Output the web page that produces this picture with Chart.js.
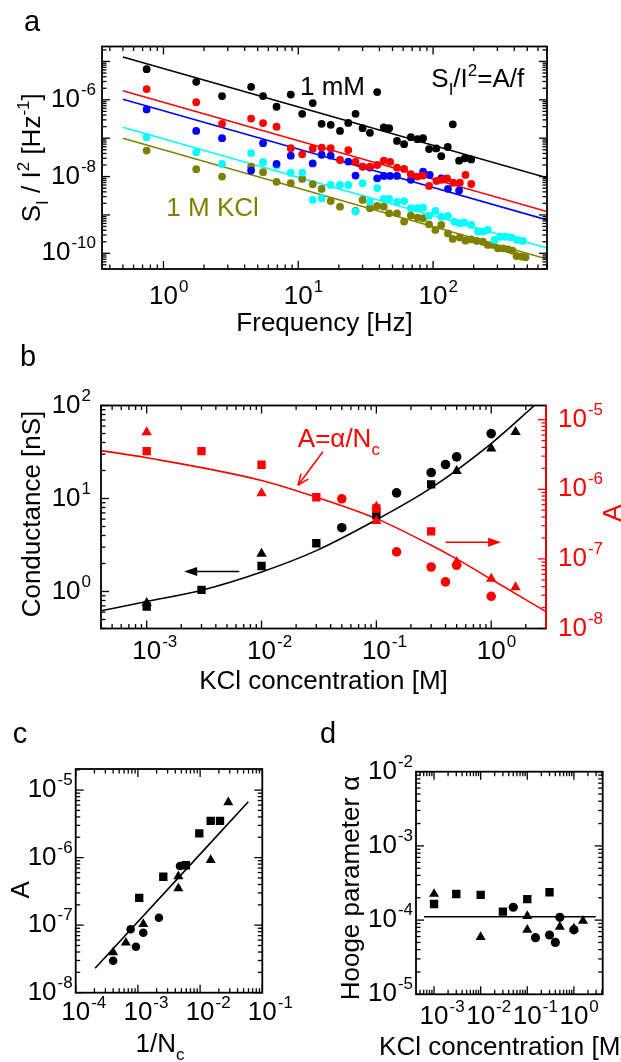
<!DOCTYPE html>
<html>
<head>
<meta charset="utf-8">
<title>1/f noise vs KCl concentration</title>
<script src="https://cdn.jsdelivr.net/npm/chart.js@4.4.1/dist/chart.umd.min.js"></script>
<style>
  html, body { margin: 0; padding: 0; background: #fff; }
  body { position: relative; width: 621px; height: 1062px; overflow: hidden; }
  canvas { position: absolute; display: block; }
</style>
</head>
<body>
<canvas id="panelA" width="621" height="340" style="left:0;top:0"></canvas>
<canvas id="panelB" width="621" height="360" style="left:0;top:340px"></canvas>
<canvas id="panelC" width="320" height="362" style="left:0;top:700px"></canvas>
<canvas id="panelD" width="301" height="362" style="left:320px;top:700px"></canvas>
<script>
// ---------- panel a : S_I/I^2 spectra ----------
const freqBlack = [0.75, 1.75, 2.72, 4.47, 5.48, 6.9, 8.8, 10.7, 12.8, 14.9, 17.4, 20.4, 23.5, 26.6, 30, 34, 38.5, 43.1, 47.2, 54, 61, 68.4, 76.6, 84.3, 93.4, 105.6, 115, 128.5, 140, 156, 172, 192];
const valBlack = [6.3e-6, 2.95e-6, 1.25e-6, 2.18e-6, 1.25e-6, 6.6e-7, 1.37e-6, 4.3e-7, 8.2e-7, 2.37e-7, 2.23e-7, 1.55e-7, 2.5e-7, 4.3e-7, 1.82e-7, 1.38e-7, 1.59e-6, 1.9e-7, 1.82e-7, 8.5e-8, 7e-8, 1.06e-7, 9.4e-8, 1e-7, 5.2e-8, 5.4e-8, 3.4e-8, 5.9e-8, 2.3e-7, 2.6e-8, 3e-8, 2.8e-8];
const freqRed = [0.75, 1.75, 2.72, 4.47, 5.48, 6.9, 8.8, 10.7, 12.8, 14.9, 17.4, 20.4, 23.5, 26.6, 30, 34, 38.5, 43.1, 48, 54, 61, 68.4, 76.6, 84.3, 93.4, 106, 116, 127, 141, 158, 174, 192];
const valRed = [1.9e-6, 8.7e-7, 2.37e-7, 3.25e-7, 2.47e-7, 2e-7, 5.5e-8, 3.8e-8, 5.3e-8, 5.7e-8, 5.5e-8, 2.7e-8, 4.9e-8, 2.4e-8, 1.82e-8, 1.82e-8, 2e-8, 2.6e-8, 2.4e-8, 1.7e-8, 1.58e-8, 1.15e-8, 1e-8, 1.06e-8, 5.7e-9, 7.7e-9, 8.2e-9, 9e-9, 6.9e-9, 6.9e-9, 1.1e-8, 6.4e-9];
const freqBlue = [0.75, 1.75, 2.72, 4.47, 5.48, 6.9, 8.8, 12.8, 14.9, 17.4, 23.5, 26.6, 30, 34, 38.5, 43.1, 48, 54, 68.4, 84.3, 94.4, 115, 129, 156];
const valBlue = [5.6e-7, 1.55e-7, 1e-7, 1.43e-8, 7.4e-8, 2.14e-8, 3.5e-8, 2.2e-8, 3.7e-8, 3.5e-8, 2.45e-8, 1.06e-8, 1.82e-8, 1.71e-8, 9e-9, 1.04e-8, 1.04e-8, 1.04e-8, 8.2e-9, 1.35e-8, 1.1e-8, 9e-9, 4.8e-9, 4.3e-9];
const freqCyan = [0.75, 1.75, 2.72, 4.47, 5.48, 6.9, 8.8, 10.7, 12.8, 14.9, 17.4, 20.4, 23.5, 26.6, 30, 34, 38.5, 43.1, 47.2, 54, 61, 68.4, 76.6, 84.3, 93.4, 104, 115, 129, 144, 158, 171, 192, 215, 235, 255, 286, 316, 346, 381, 419, 464];
const valCyan = [1.06e-7, 4.3e-8, 2.14e-8, 4.1e-8, 2.37e-8, 1.93e-8, 1.25e-8, 1.27e-8, 2.46e-9, 2.72e-9, 6.05e-9, 6.05e-9, 6.05e-9, 1.22e-9, 6.7e-9, 2.2e-9, 5e-9, 2.6e-9, 2.6e-9, 2.2e-9, 2.3e-9, 1.5e-9, 1.5e-9, 1.55e-9, 9.6e-10, 1.27e-9, 9e-10, 9.4e-10, 6.7e-10, 6.1e-10, 6.3e-10, 5.5e-10, 3.7e-10, 3.7e-10, 4.06e-10, 2.23e-10, 2.7e-10, 2.7e-10, 2.6e-10, 2.23e-10, 2.1e-10];
const freqOlive = [0.75, 1.75, 2.72, 4.47, 5.48, 6.9, 8.8, 10.7, 12.8, 14.9, 17.4, 20.4, 26.6, 30, 34, 38.5, 43.1, 47.2, 54, 61, 68.4, 76.6, 84.3, 93.4, 104, 115, 129, 140, 158, 174, 192, 211, 234, 255, 279, 303, 330, 360, 388, 416, 454, 485];
const valOlive = [4.75e-8, 1.56e-8, 1e-8, 1.82e-8, 1.3e-8, 7.3e-9, 6.7e-9, 8.7e-9, 6.3e-9, 4.76e-9, 2.3e-9, 1.64e-9, 1.27e-9, 2.46e-9, 1.5e-9, 1.72e-9, 1.64e-9, 1.1e-9, 1.1e-9, 6.7e-10, 9.6e-10, 8.5e-10, 8.2e-10, 5.7e-10, 4.06e-10, 5.5e-10, 3.3e-10, 2.37e-10, 2.6e-10, 2.13e-10, 2.32e-10, 2.1e-10, 2e-10, 1.65e-10, 1.65e-10, 1.35e-10, 1.35e-10, 1.27e-10, 1.17e-10, 8.5e-11, 8.2e-11, 7.9e-11];
// A/f fits
const fitFreq = [0.5, 700];
const fitBlack = [1.3e-5, 9.3e-9];
const fitRed = [1.72e-6, 1.23e-9];
const fitBlue = [1.04e-6, 7.4e-10];
const fitCyan = [1.92e-7, 1.37e-10];
const fitOlive = [1e-7, 7.1e-11];
const aXTicks = [1, 10, 100];
const aYTicks = [1e-10, 1e-8, 1e-6];

// ---------- panel b : conductance and A vs KCl ----------
const gCircX = [0.05, 0.15, 0.3, 0.4, 0.5, 1.0];
const gCircY = [4.85, 11.5, 19, 23.2, 28, 49.9];
const gSqX = [1e-3, 3e-3, 1e-2, 3e-2, 0.1, 0.3];
const gSqY = [0.69, 1.04, 1.88, 3.3, 6.6, 14.2];
const gTriX = [1e-3, 1e-2, 0.5, 1.0, 1.63];
const gTriY = [0.75, 2.54, 19.7, 34.4, 51.9];
const aCircX = [0.05, 0.15, 0.3, 0.4, 0.5, 1.0];
const aCircY = [7.3e-7, 1.26e-7, 7.65e-8, 4.67e-8, 8.1e-8, 2.9e-8];
const aSqX = [1e-3, 3e-3, 1e-2, 3e-2, 0.1, 0.3];
const aSqY = [3.53e-6, 3.53e-6, 2.25e-6, 7.7e-7, 5.3e-7, 2.49e-7];
const aTriX = [1e-3, 1e-2, 0.1, 0.1, 0.5, 1.0, 1.63];
const aTriY = [6.6e-6, 8.8e-7, 5.6e-7, 3.5e-7, 9e-8, 5.2e-8, 3.9e-8];
const gFitX = [4e-4, 1e-3, 3e-3, 1e-2, 3e-2, 0.1, 0.3, 1, 2.38];
const gFitY = [0.62, 0.78, 1.03, 1.62, 2.75, 5.9, 13, 39, 100];
const aFitX = [4e-4, 1e-3, 1e-2, 3e-2, 0.1, 0.3, 0.5, 1, 3];
const aFitY = [3.6e-6, 2.84e-6, 1.34e-6, 7.7e-7, 3.79e-7, 1.57e-7, 1e-7, 5.1e-8, 1.75e-8];
const bXTicks = [1e-3, 1e-2, 1e-1, 1];
const bYTicks = [1, 10, 100];
const bY2Ticks = [1e-8, 1e-7, 1e-6, 1e-5];

// ---------- panel c : A vs 1/Nc ----------
const cCircX = [4e-4, 9.3e-4, 7.65e-4, 1.22e-3, 2.18e-3, 4.75e-3];
const cCircY = [2.97e-8, 4.8e-8, 8.7e-8, 7.7e-8, 1.29e-7, 7.5e-7];
const cSqX = [1.05e-3, 2.56e-3, 5.9e-3, 9.7e-3, 0.0148, 0.0209];
const cSqY = [2.54e-7, 5.2e-7, 7.7e-7, 2.28e-6, 3.5e-6, 3.5e-6];
const cTriX = [4e-4, 6.4e-4, 1.22e-3, 4.47e-3, 4.47e-3, 0.0148, 0.0284];
const cTriY = [3.96e-8, 5.5e-8, 1.04e-7, 3.5e-7, 5.3e-7, 9.2e-7, 6.6e-6];
const cFitX = [2.05e-4, 0.0596];
const cFitY = [2.3e-8, 6.7e-6];
const cXTicks = [1e-4, 1e-3, 1e-2, 1e-1];
const cYTicks = [1e-8, 1e-7, 1e-6, 1e-5];

// ---------- panel d : Hooge parameter ----------
const dCircX = [0.05, 0.15, 0.3, 0.4, 0.5, 1.0];
const dCircY = [1.49e-4, 5.8e-5, 6.3e-5, 5e-5, 1.09e-4, 7.4e-5];
const dSqX = [1e-3, 3e-3, 1e-2, 3e-2, 0.1, 0.3];
const dSqY = [1.65e-4, 2.25e-4, 2.19e-4, 1.3e-4, 1.92e-4, 2.37e-4];
const dTriX = [1e-3, 1e-2, 0.1, 0.1, 0.5, 1.0, 1.57];
const dTriY = [2.25e-4, 5.9e-5, 1.13e-4, 7.4e-5, 8.1e-5, 7.7e-5, 9.8e-5];
const dFitX = [6.1e-4, 2.95];
const dFitY = [1.11e-4, 1.11e-4];
const dXTicks = [1e-3, 1e-2, 1e-1, 1];
const dYTicks = [1e-5, 1e-4, 1e-3, 1e-2];

const FONT = '"Liberation Sans", Arial, Helvetica, sans-serif';
const RED = '#ff0000';
const TITLE_SIZE = 26;

function xy(xs, ys) { return xs.map((x, i) => ({ x: x, y: ys[i] })); }

function dots(xs, ys, color, style, r, axis) {
  return {
    data: xy(xs, ys), yAxisID: axis || 'y', showLine: false,
    pointStyle: style, pointRadius: r, pointBackgroundColor: color,
    pointBorderColor: color, pointBorderWidth: 0
  };
}

function curve(xs, ys, color, axis) {
  return {
    data: xy(xs, ys), yAxisID: axis || 'y', showLine: true, pointRadius: 0,
    borderColor: color, borderWidth: 1.6, cubicInterpolationMode: 'monotone'
  };
}

// every 1..9 x 10^n step inside [min,max]
function logSteps(min, max) {
  const out = [];
  for (let d = Math.floor(Math.log10(min)); d <= Math.ceil(Math.log10(max)); d++) {
    for (let m = 1; m <= 9; m++) {
      const v = m * Math.pow(10, d);
      if (v >= min * 0.999 && v <= max * 1.001) out.push({ v: v, major: m === 1 });
    }
  }
  return out;
}

function seg(ctx, x1, y1, x2, y2) {
  ctx.beginPath(); ctx.moveTo(x1, y1); ctx.lineTo(x2, y2); ctx.stroke();
}

// text with sub/superscript parts
function richText(ctx, parts, x, y, size, color, align, rot) {
  const small = Math.round(size * 0.64);
  let total = 0;
  const w = parts.map(p => {
    ctx.font = (p.sub || p.sup ? small : size) + 'px ' + FONT;
    const m = ctx.measureText(p.t).width;
    total += m;
    return m;
  });
  ctx.save();
  ctx.translate(x, y);
  if (rot) ctx.rotate(rot);
  ctx.fillStyle = color; ctx.textAlign = 'left'; ctx.textBaseline = 'alphabetic';
  let cx = align === 'left' ? 0 : align === 'right' ? -total : -total / 2;
  const base = size * 0.36;
  parts.forEach((p, i) => {
    ctx.font = (p.sub || p.sup ? small : size) + 'px ' + FONT;
    const dy = p.sub ? size * 0.3 : p.sup ? -size * 0.42 : 0;
    ctx.fillText(p.t, cx, base + dy);
    cx += w[i];
  });
  ctx.restore();
}

// "10" with exponent
function powLabel(ctx, v, x, y, align, color) {
  const e = String(Math.round(Math.log10(v)));
  ctx.font = '26px ' + FONT; const wb = ctx.measureText('10').width;
  ctx.font = '17px ' + FONT; const we = ctx.measureText(e).width;
  const bx = align === 'center' ? x - wb / 2 : align === 'right' ? x - wb - we - 1 : x;
  ctx.fillStyle = color; ctx.textAlign = 'left'; ctx.textBaseline = 'middle';
  ctx.font = '26px ' + FONT; ctx.fillText('10', bx, y);
  ctx.font = '17px ' + FONT; ctx.fillText(e, bx + wb + 1, y - 9.5);
}

function arrow(ctx, x1, y1, x2, y2, color, head, open) {
  const ang = Math.atan2(y2 - y1, x2 - x1), L = head[0], W = head[1];
  const c = Math.cos(ang), s = Math.sin(ang);
  ctx.strokeStyle = color; ctx.fillStyle = color; ctx.lineWidth = 1.5;
  if (open) {
    seg(ctx, x1, y1, x2, y2);
    seg(ctx, x2, y2, x2 - c * L - s * W, y2 - s * L + c * W);
    seg(ctx, x2, y2, x2 - c * L + s * W, y2 - s * L - c * W);
    return;
  }
  seg(ctx, x1, y1, x2 - c * L * 0.8, y2 - s * L * 0.8);
  ctx.beginPath();
  ctx.moveTo(x2, y2);
  ctx.lineTo(x2 - c * L - s * W, y2 - s * L + c * W);
  ctx.lineTo(x2 - c * L + s * W, y2 - s * L - c * W);
  ctx.closePath(); ctx.fill();
}

// box with inward ticks, labels, titles and notes (cfg kept out of Chart's option proxy)
function framePlugin(cfg) {
  return {
    id: 'frame',
    afterDatasetsDraw(chart) {
      const ctx = chart.ctx, a = chart.chartArea, xs = chart.scales.x;
      ctx.save();
      ctx.lineWidth = 1.3;
      ctx.strokeStyle = '#000';
      logSteps(xs.min, xs.max).forEach(t => {
        const p = xs.getPixelForValue(t.v), len = t.major ? 8 : 4.5;
        seg(ctx, p, a.bottom, p, a.bottom - len);
        seg(ctx, p, a.top, p, a.top + len);
      });
      cfg.axes.forEach(ax => {
        const s = chart.scales[ax.id];
        ctx.strokeStyle = ax.color;
        logSteps(s.min, s.max).forEach(t => {
          const p = s.getPixelForValue(t.v), len = t.major ? 8 : 4.5;
          if (ax.sides.indexOf('left') >= 0) seg(ctx, a.left, p, a.left + len, p);
          if (ax.sides.indexOf('right') >= 0) seg(ctx, a.right, p, a.right - len, p);
        });
      });
      ctx.lineWidth = 1.8; ctx.strokeStyle = '#000';
      ctx.strokeRect(a.left, a.top, a.right - a.left, a.bottom - a.top);
      cfg.axes.forEach(ax => {
        if (ax.spine) { ctx.strokeStyle = ax.color; seg(ctx, a[ax.spine], a.top, a[ax.spine], a.bottom); }
      });
      cfg.xLabels.forEach(v => powLabel(ctx, v, xs.getPixelForValue(v), a.bottom + cfg.xLabelDy, 'center', '#000'));
      cfg.axes.forEach(ax => {
        const s = chart.scales[ax.id];
        ax.labels.forEach(v => {
          const p = s.getPixelForValue(v);
          if (ax.labelSide === 'left') powLabel(ctx, v, a.left - ax.gap, p, 'right', ax.color);
          else powLabel(ctx, v, a.right + ax.gap, p, 'left', ax.color);
        });
      });
      const cxm = (a.left + a.right) / 2, cym = (a.top + a.bottom) / 2;
      cfg.titles.forEach(t => {
        const shift = t.shift || 0;
        let x, y, rot = 0;
        if (t.at === 'bottom') { x = cxm + shift; y = a.bottom + t.off; }
        else { x = t.at === 'left' ? a.left - t.off : a.right + t.off; y = cym + shift; rot = -Math.PI / 2; }
        richText(ctx, t.parts, x, y, TITLE_SIZE, t.color || '#000', 'center', rot);
      });
      (cfg.notes || []).forEach(n => {
        const s = chart.scales[n.axis || 'y'];
        richText(ctx, n.parts, xs.getPixelForValue(n.x), s.getPixelForValue(n.y), n.size || 25, n.color, 'left', 0);
      });
      (cfg.arrows || []).forEach(r => {
        const s = chart.scales[r.axis || 'y'];
        arrow(ctx, xs.getPixelForValue(r.from[0]), s.getPixelForValue(r.from[1]),
          xs.getPixelForValue(r.to[0]), s.getPixelForValue(r.to[1]), r.color, r.head, r.open);
      });
      ctx.fillStyle = '#000'; ctx.font = '29px ' + FONT;
      ctx.textAlign = 'center'; ctx.textBaseline = 'middle';
      ctx.fillText(cfg.letter[0], cfg.letter[1], cfg.letter[2]);
      ctx.restore();
    }
  };
}

function logScale(min, max, pos) {
  return { type: 'logarithmic', display: false, min: min, max: max, position: pos };
}

function baseOptions(padding, scales) {
  return {
    responsive: false, animation: false, events: [],
    layout: { padding: padding },
    scales: scales,
    plugins: { legend: { display: false }, tooltip: { enabled: false } }
  };
}

// panel a
new Chart(document.getElementById('panelA'), {
  type: 'scatter',
  data: {
    datasets: [
      dots(freqRed, valRed, RED, 'circle', 3.9),
      dots(freqBlue, valBlue, '#0000ff', 'circle', 3.9),
      dots(freqBlack, valBlack, '#000000', 'circle', 3.9),
      dots(freqCyan, valCyan, '#00ffff', 'circle', 3.9),
      dots(freqOlive, valOlive, '#808000', 'circle', 3.9),
      curve(fitFreq, fitBlack, '#000000'),
      curve(fitFreq, fitRed, RED),
      curve(fitFreq, fitBlue, '#0000ff'),
      curve(fitFreq, fitCyan, '#00ffff'),
      curve(fitFreq, fitOlive, '#808000')
    ]
  },
  options: baseOptions({ left: 102, right: 74, top: 46.5, bottom: 71 },
    { x: logScale(0.35, 700, 'bottom'), y: logScale(3.9e-11, 2.45e-5, 'left') }),
  plugins: [framePlugin({
    letter: ['a', 32, 23],
    xLabels: aXTicks, xLabelDy: 28,
    axes: [{ id: 'y', sides: ['left', 'right'], labels: aYTicks, labelSide: 'left', gap: 6, color: '#000' }],
    titles: [
      { at: 'left', off: 71, parts: [{ t: 'S' }, { t: 'I', sub: true }, { t: ' / I' }, { t: '2', sup: true }, { t: ' [Hz' }, { t: '-1', sup: true }, { t: ']' }] },
      { at: 'bottom', off: 53, parts: [{ t: 'Frequency [Hz]' }] }
    ],
    notes: [
      { parts: [{ t: '1 mM' }], x: 10.3, y: 2.4e-6, color: '#000', size: 26 },
      { parts: [{ t: 'S' }, { t: 'I', sub: true }, { t: '/I' }, { t: '2', sup: true }, { t: '=A/f' }], x: 97, y: 3.7e-6, color: '#000', size: 26 },
      { parts: [{ t: '1 M KCl' }], x: 1.05, y: 1.64e-9, color: '#808000', size: 26 }
    ]
  })]
});

// panel b
new Chart(document.getElementById('panelB'), {
  type: 'scatter',
  data: {
    datasets: [
      dots(aTriX, aTriY, RED, 'triangle', 6, 'y2'),
      dots(aSqX, aSqY, RED, 'rect', 5.9, 'y2'),
      dots(aCircX, aCircY, RED, 'circle', 4.8, 'y2'),
      dots(gTriX, gTriY, '#000000', 'triangle', 6),
      dots(gSqX, gSqY, '#000000', 'rect', 5.9),
      dots(gCircX, gCircY, '#000000', 'circle', 4.8),
      curve(aFitX, aFitY, RED, 'y2'),
      curve(gFitX, gFitY, '#000000')
    ]
  },
  options: baseOptions({ left: 101, right: 75, top: 65.5, bottom: 71.5 },
    { x: logScale(4e-4, 3, 'bottom'), y: logScale(0.4, 100, 'left'), y2: logScale(1e-8, 1.6e-5, 'right') }),
  plugins: [framePlugin({
    letter: ['b', 28, 18],
    xLabels: bXTicks, xLabelDy: 23,
    axes: [
      { id: 'y', sides: ['left'], labels: bYTicks, labelSide: 'left', gap: 10, color: '#000' },
      { id: 'y2', sides: ['right'], labels: bY2Ticks, labelSide: 'right', gap: 12, color: RED, spine: 'right' }
    ],
    titles: [
      { at: 'left', off: 70, shift: -3, parts: [{ t: 'Conductance [nS]' }] },
      { at: 'right', off: 66, shift: -4, color: RED, parts: [{ t: 'A' }] },
      { at: 'bottom', off: 51.5, parts: [{ t: 'KCl concentration [M]' }] }
    ],
    notes: [
      { parts: [{ t: 'A=\u03b1/N' }, { t: 'c', sub: true }], x: 0.0207, y: 45, color: RED, size: 26 }
    ],
    arrows: [
      { from: [0.0342, 31.8], to: [0.0208, 13.9], color: RED, head: [11, 4.5], open: true },
      { from: [6.4e-3, 1.64], to: [2.12e-3, 1.64], color: '#000', head: [13, 4.5] },
      { from: [0.4, 3.38], to: [1.22, 3.38], color: RED, head: [13, 4.5] }
    ]
  })]
});

// panel c
new Chart(document.getElementById('panelC'), {
  type: 'scatter',
  data: {
    datasets: [
      dots(cTriX, cTriY, '#000000', 'triangle', 5.8),
      dots(cSqX, cSqY, '#000000', 'rect', 5.9),
      dots(cCircX, cCircY, '#000000', 'circle', 4.3),
      curve(cFitX, cFitY, '#000000')
    ]
  },
  options: baseOptions({ left: 75.7, right: 57.7, top: 69, bottom: 69.3 },
    { x: logScale(1e-4, 0.1, 'bottom'), y: logScale(1e-8, 2.05e-5, 'left') }),
  plugins: [framePlugin({
    letter: ['c', 20, 35],
    xLabels: cXTicks, xLabelDy: 20.6,
    axes: [{ id: 'y', sides: ['left', 'right'], labels: cYTicks, labelSide: 'left', gap: 3, color: '#000' }],
    titles: [
      { at: 'left', off: 56, shift: 9, parts: [{ t: 'A' }] },
      { at: 'bottom', off: 50, shift: -9, parts: [{ t: '1/N' }, { t: 'c', sub: true }] }
    ]
  })]
});

// panel d
new Chart(document.getElementById('panelD'), {
  type: 'scatter',
  data: {
    datasets: [
      dots(dTriX, dTriY, '#000000', 'triangle', 5.8),
      dots(dSqX, dSqY, '#000000', 'rect', 5.9),
      dots(dCircX, dCircY, '#000000', 'circle', 4.6),
      curve(dFitX, dFitY, '#000000')
    ]
  },
  options: baseOptions({ left: 96, right: 18.3, top: 71.7, bottom: 67.7 },
    { x: logScale(4.1e-4, 4.15, 'bottom'), y: logScale(1e-5, 1e-2, 'left') }),
  plugins: [framePlugin({
    letter: ['d', 8, 35],
    xLabels: dXTicks, xLabelDy: 22.4,
    axes: [{ id: 'y', sides: ['left', 'right'], labels: dYTicks, labelSide: 'left', gap: 3, color: '#000' }],
    titles: [
      { at: 'left', off: 66, shift: 5, parts: [{ t: 'Hooge parameter \u03b1' }] },
      { at: 'bottom', off: 51, shift: -6, parts: [{ t: 'KCl concentration [M]' }] }
    ]
  })]
});
</script>
</body>
</html>
